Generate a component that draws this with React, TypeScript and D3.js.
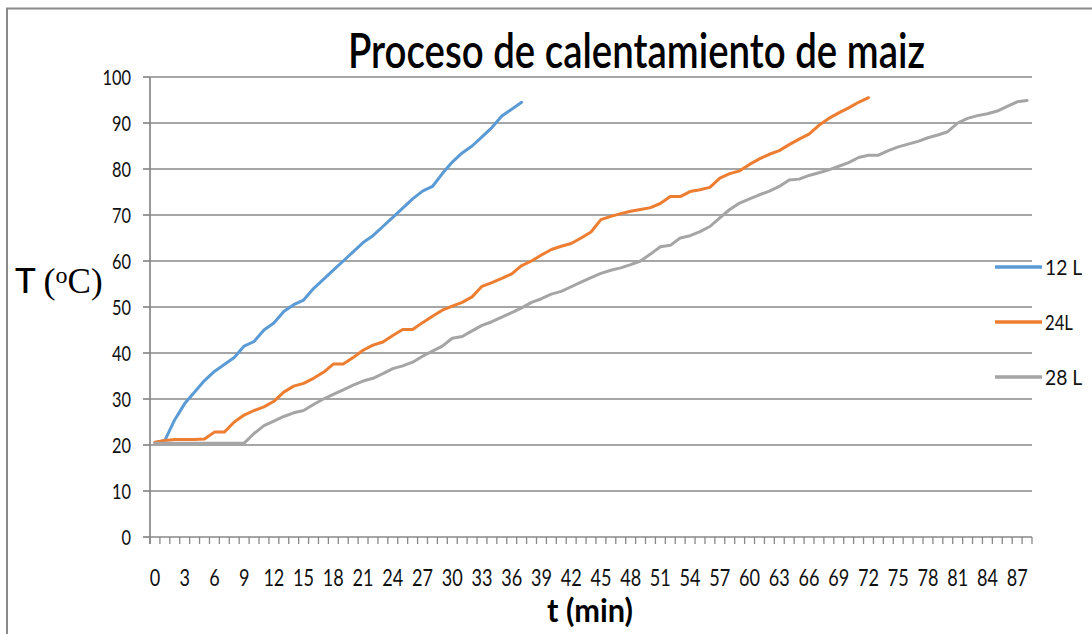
import React, { useEffect, useRef } from 'react';
import * as d3 from 'd3';

// minutes on the category axis (0..88)
const minutes = d3.range(0, 89);

// temperatures (°C), one per minute
const temps12L = [
  20.5, 21, 25.5, 29, 31.5, 34, 36, 37.5, 39, 41.5,
  42.5, 45, 46.5, 49, 50.5, 51.5, 54, 56, 58, 60,
  62, 64, 65.5, 67.5, 69.5, 71.5, 73.5, 75.2, 76.2, 79,
  81.5, 83.5, 85, 87, 89, 91.5, 93, 94.5,
];

const temps24L = [
  20.6, 21, 21.2, 21.2, 21.2, 21.3, 22.8, 22.8, 25, 26.5,
  27.5, 28.3, 29.5, 31.5, 32.8, 33.4, 34.5, 35.8, 37.6, 37.6,
  39, 40.6, 41.7, 42.4, 43.8, 45.1, 45.1, 46.6, 48, 49.3,
  50.2, 51, 52.2, 54.5, 55.3, 56.2, 57.2, 59, 60, 61.3,
  62.5, 63.2, 63.8, 65, 66.3, 69, 69.7, 70.3, 70.8, 71.2,
  71.6, 72.5, 74, 74, 75.1, 75.5, 76, 78, 79, 79.6,
  81, 82.2, 83.2, 84, 85.3, 86.5, 87.6, 89.5, 91, 92.2,
  93.3, 94.5, 95.5,
];

const temps28L = [
  20.4, 20.4, 20.4, 20.4, 20.4, 20.4, 20.4, 20.4, 20.4, 20.4,
  22.5, 24.2, 25.2, 26.2, 27, 27.5, 28.8, 30, 31, 32,
  33, 33.9, 34.5, 35.5, 36.6, 37.2, 38, 39.3, 40.4, 41.5,
  43.2, 43.6, 44.8, 46, 46.8, 47.8, 48.8, 49.8, 51, 51.8,
  52.8, 53.4, 54.4, 55.4, 56.4, 57.3, 58, 58.5, 59.2, 60,
  61.5, 63.1, 63.4, 65, 65.5, 66.4, 67.5, 69.4, 71.2, 72.6,
  73.5, 74.4, 75.2, 76.2, 77.6, 77.8, 78.6, 79.2, 79.8, 80.6,
  81.4, 82.5, 83, 83, 84, 84.8, 85.4, 86, 86.8, 87.4,
  88.1, 90, 91, 91.6, 92, 92.6, 93.6, 94.6, 94.9,
];

const seriesNames = ['12 L', '24L', '28 L'];
const seriesColors = ['#5b9bd5', '#ed7d31', '#a5a5a5'];
const seriesValues = [temps12L, temps24L, temps28L];

const yTicks = [0, 10, 20, 30, 40, 50, 60, 70, 80, 90, 100];

const FONT = 'Lato, "Open Sans", sans-serif';

const App = () => {
  const ref = useRef<SVGSVGElement | null>(null);

  useEffect(() => {
    const el = ref.current;
    if (!el) return;
    const svg = d3.select(el);
    svg.selectAll('*').remove();

    const left = 150;
    const right = 1032;
    const top = 77;
    const bottom = 537;

    const x = d3.scaleBand<number>().domain(minutes).range([left, right]).padding(0);
    const y = d3.scaleLinear().domain([0, 100]).range([bottom, top]);
    const cx = (t: number) => (x(t) as number) + x.bandwidth() / 2;

    // outer frame (top and left edges visible)
    svg.append('path')
      .attr('d', 'M7,1000 L7,8.5 L1100,8.5')
      .attr('fill', 'none')
      .attr('stroke', '#8a8a8a')
      .attr('stroke-width', 2);

    // title
    svg.append('text')
      .attr('x', 348)
      .attr('y', 68)
      .attr('textLength', 577)
      .attr('lengthAdjust', 'spacingAndGlyphs')
      .style('font-family', FONT)
      .style('font-size', '48px')
      .style('font-weight', 600)
      .style('fill', '#000')
      .text('Proceso de calentamiento de maiz');

    // gridlines
    svg.append('g')
      .selectAll('line')
      .data(yTicks.filter((d) => d > 0))
      .enter()
      .append('line')
      .attr('x1', left)
      .attr('x2', right)
      .attr('y1', (d) => y(d))
      .attr('y2', (d) => y(d))
      .attr('stroke', '#888')
      .attr('stroke-width', 1.7);

    // y axis
    const yAxis = svg.append('g');
    yAxis.append('line')
      .attr('x1', left).attr('x2', left)
      .attr('y1', top).attr('y2', bottom + 7)
      .attr('stroke', '#888').attr('stroke-width', 1.7);
    yAxis.selectAll('line.tick')
      .data(yTicks)
      .enter()
      .append('line')
      .attr('class', 'tick')
      .attr('x1', left - 7).attr('x2', left)
      .attr('y1', (d) => y(d)).attr('y2', (d) => y(d))
      .attr('stroke', '#888').attr('stroke-width', 1.7);
    yAxis.selectAll('text')
      .data(yTicks)
      .enter()
      .append('text')
      .attr('x', 131)
      .attr('y', (d) => y(d))
      .attr('dy', '0.36em')
      .attr('text-anchor', 'end')
      .attr('textLength', (d) => String(d).length * 9.5)
      .attr('lengthAdjust', 'spacingAndGlyphs')
      .style('font-family', FONT)
      .style('font-size', '22px')
      .style('fill', '#111')
      .text((d) => d);

    // x axis
    const xAxis = svg.append('g');
    xAxis.append('line')
      .attr('x1', left).attr('x2', right)
      .attr('y1', bottom).attr('y2', bottom)
      .attr('stroke', '#888').attr('stroke-width', 1.7);
    xAxis.selectAll('line.tick')
      .data([...minutes, minutes.length])
      .enter()
      .append('line')
      .attr('class', 'tick')
      .attr('x1', (d, i) => left + i * x.bandwidth())
      .attr('x2', (d, i) => left + i * x.bandwidth())
      .attr('y1', bottom).attr('y2', bottom + 7)
      .attr('stroke', '#888').attr('stroke-width', 1.3);
    xAxis.selectAll('text')
      .data(minutes.filter((d) => d % 3 === 0))
      .enter()
      .append('text')
      .attr('x', (d) => cx(d))
      .attr('y', 586)
      .attr('text-anchor', 'middle')
      .attr('textLength', (d) => String(d).length * 10.5)
      .attr('lengthAdjust', 'spacingAndGlyphs')
      .style('font-family', FONT)
      .style('font-size', '24px')
      .style('fill', '#111')
      .text((d) => d);

    // axis titles
    svg.append('text')
      .attr('x', 547)
      .attr('y', 622)
      .attr('textLength', 86)
      .attr('lengthAdjust', 'spacingAndGlyphs')
      .style('font-family', FONT)
      .style('font-size', '33px')
      .style('font-weight', 700)
      .style('fill', '#000')
      .text('t (min)');

    const yTitle = svg.append('text')
      .attr('x', 15)
      .attr('y', 293)
      .style('fill', '#000');
    yTitle.append('tspan')
      .style('font-family', FONT)
      .style('font-size', '35px')
      .style('font-weight', 500)
      .text('T ');
    yTitle.append('tspan')
      .style('font-family', '"Liberation Serif", serif')
      .style('font-size', '36px')
      .text('(');
    yTitle.append('tspan')
      .attr('dy', -10)
      .style('font-family', '"Liberation Serif", serif')
      .style('font-size', '24px')
      .text('o');
    yTitle.append('tspan')
      .attr('dy', 10)
      .style('font-family', '"Liberation Serif", serif')
      .style('font-size', '35px')
      .text('C)');

    // series
    const line = d3.line<number>()
      .x((d, i) => cx(minutes[i]))
      .y((d) => y(d));

    svg.append('g')
      .selectAll('path')
      .data(seriesValues)
      .enter()
      .append('path')
      .attr('d', (d) => line(d))
      .attr('fill', 'none')
      .attr('stroke', (d, i) => seriesColors[i])
      .attr('stroke-width', 3)
      .attr('stroke-linejoin', 'round')
      .attr('stroke-linecap', 'round');

    // legend
    const legend = svg.append('g');
    const legendY = [267, 322, 377];
    seriesNames.forEach((name, i) => {
      legend.append('line')
        .attr('x1', 995).attr('x2', 1042)
        .attr('y1', legendY[i]).attr('y2', legendY[i])
        .attr('stroke', seriesColors[i])
        .attr('stroke-width', 3.5);
      legend.append('text')
        .attr('x', 1045)
        .attr('y', legendY[i])
        .attr('dy', '0.36em')
        .attr('textLength', name.length * 9.3)
        .attr('lengthAdjust', 'spacingAndGlyphs')
        .style('font-family', FONT)
        .style('font-size', '22px')
        .style('fill', '#111')
        .text(name);
    });
  }, []);

  return (
    <svg
      ref={ref}
      width={1092}
      height={634}
      style={{ position: 'absolute', left: 0, top: 0, background: '#fff' }}
    />
  );
};

export default App;
